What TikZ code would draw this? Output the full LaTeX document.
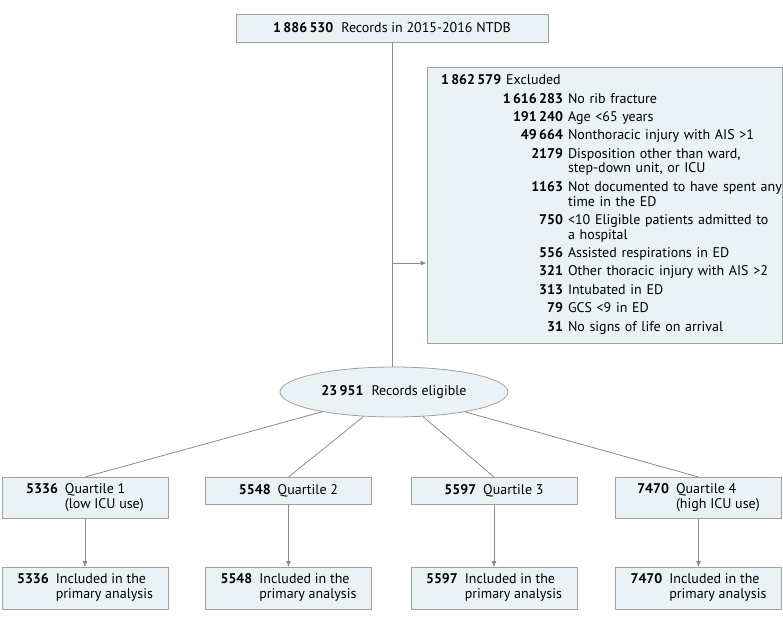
\documentclass[tikz,border=0pt]{standalone}
\usepackage{fontspec}
\usepackage{array}
\setmainfont{PT Sans}
\usetikzlibrary{shapes.geometric, arrows.meta, positioning, calc}
\definecolor{boxfill}{HTML}{EAF2F5}
\definecolor{boxdraw}{HTML}{A0A0A0}
\definecolor{linegray}{HTML}{8C8C8C}
\newcommand{\cnt}[1]{\textbf{#1}}

\begin{document}
\begin{tikzpicture}[x=1pt, y=-1pt, font=\fontsize{14}{14.7}\selectfont,
        block/.style={rectangle, draw=boxdraw, fill=boxfill, line width=0.8pt, minimum width=166pt, anchor=north, align=center},
        line/.style={draw=linegray, line width=0.8pt},
        arrowline/.style={line, -{Latex[length=6pt, width=5pt]}}]

        \useasboundingbox (0,0) rectangle (783,623);

        % Source and exclusions
        \node [block, anchor=center, minimum width=312pt, minimum height=28pt] (all) at (392,28) {\cnt{1\,886\,530}\hspace{8pt}Records in 2015-2016 NTDB};
        \node [block, anchor=center, minimum width=355pt, minimum height=276pt, text width=327pt, inner xsep=14pt, align=left] (excl) at (604.5,205) {%
            \begin{tabular}{@{}w{r}{122pt}@{\hspace{5pt}}l@{}}
            \multicolumn{2}{@{}l@{}}{\cnt{1\,862\,579}\hspace{5pt}Excluded}\\[3.7pt]
            \cnt{1\,616\,283} & No rib fracture\\[3.7pt]
            \cnt{191\,240} & Age <65 years\\[3.7pt]
            \cnt{49\,664} & Nonthoracic injury with AIS >1\\[3.7pt]
            \cnt{2179} & Disposition other than ward,\\
             & step-down unit, or ICU\\[3.7pt]
            \cnt{1163} & Not documented to have spent any\\
             & time in the ED\\[3.7pt]
            \cnt{750} & <10 Eligible patients admitted to\\
             & a hospital\\[3.7pt]
            \cnt{556} & Assisted respirations in ED\\[3.7pt]
            \cnt{321} & Other thoracic injury with AIS >2\\[3.7pt]
            \cnt{313} & Intubated in ED\\[3.7pt]
            \cnt{79} & GCS <9 in ED\\[3.7pt]
            \cnt{31} & No signs of life on arrival
            \end{tabular}};
        \node [ellipse, draw=boxdraw, fill=boxfill, line width=0.8pt, minimum width=228pt, minimum height=50pt] (elig) at (394,392) {\cnt{23\,951}\hspace{8pt}Records eligible};
        \coordinate (split) at (392,263);

        % Quartiles
        \node [block, minimum height=41pt] (q1) at (85,477) {\begin{tabular}{@{}l@{\hspace{7pt}}l@{}}\cnt{5336} & Quartile 1\\ & (low ICU use)\end{tabular}};
        \node [block, minimum height=27pt] (q2) at (288.5,477) {\cnt{5548}\hspace{7pt}Quartile 2};
        \node [block, minimum height=27pt] (q3) at (494,477) {\cnt{5597}\hspace{7pt}Quartile 3};
        \node [block, minimum height=41pt] (q4) at (698.5,477) {\begin{tabular}{@{}l@{\hspace{7pt}}l@{}}\cnt{7470} & Quartile 4\\ & (high ICU use)\end{tabular}};

        % Analysis
        \node [block, minimum height=42pt] (a1) at (85,567) {\begin{tabular}{@{}l@{\hspace{7pt}}l@{}}\cnt{5336} & Included in the\\ & primary analysis\end{tabular}};
        \node [block, minimum height=42pt] (a2) at (288.5,567) {\begin{tabular}{@{}l@{\hspace{7pt}}l@{}}\cnt{5548} & Included in the\\ & primary analysis\end{tabular}};
        \node [block, minimum height=42pt] (a3) at (494,567) {\begin{tabular}{@{}l@{\hspace{7pt}}l@{}}\cnt{5597} & Included in the\\ & primary analysis\end{tabular}};
        \node [block, minimum height=42pt] (a4) at (698.5,567) {\begin{tabular}{@{}l@{\hspace{7pt}}l@{}}\cnt{7470} & Included in the\\ & primary analysis\end{tabular}};

        % Connectors
        \path [line] (all.south -| split) -- (elig.north -| split);
        \path [arrowline] (split) -- (excl.west |- split);
        \foreach \q in {1,2,3,4} {
            \path [line] (elig) -- (q\q.north);
            \path [arrowline] (q\q.south) -- (a\q.north);
        }
    \end{tikzpicture}
\end{document}
